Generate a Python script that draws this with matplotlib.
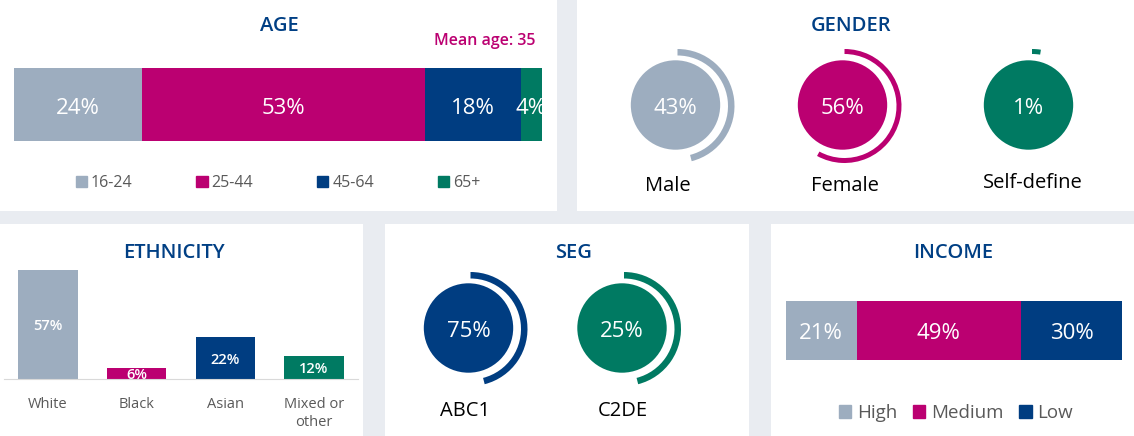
import matplotlib
matplotlib.use('Agg')
import matplotlib.pyplot as plt
from matplotlib.patches import Circle, Patch, Rectangle, Wedge

plt.rcParams['font.family'] = ['Open Sans', 'DejaVu Sans']

W, H = 1134, 436

GREY = "#9DADBF"
MAGENTA = "#BB0071"
NAVY = "#003D81"
GREEN = "#007A62"
TITLE = "#003F84"
PAGE = "#E9ECF1"
LABEL = "#595959"

age_labels = ["16-24", "25-44", "45-64", "65+"]
age_values = [24, 53, 18, 4]

gender_labels = ["Male", "Female", "Self-define"]
gender_values = [43, 56, 1]
# the rings in the original are not to scale, so sweep is read off separately
gender_ring_share = [46, 58, 2.5]

ethnicity_labels = ["White", "Black", "Asian", "Mixed or\nother"]
ethnicity_values = [57, 6, 22, 12]

seg_labels = ["ABC1", "C2DE"]
seg_values = [75, 25]
seg_ring_share = [46, 46]

income_labels = ["High", "Medium", "Low"]
income_values = [21, 49, 30]


def px_axes(x0, y0, x1, y1):
    """Axes placed by image pixels, y measured from the top."""
    ax = fig.add_axes([x0 / W, 1 - y1 / H, (x1 - x0) / W, (y1 - y0) / H])
    ax.patch.set_alpha(0)
    ax.axis("off")
    return ax


def panel(x0, y0, x1, y1):
    fig.add_artist(Rectangle((x0 / W, 1 - y1 / H), (x1 - x0) / W, (y1 - y0) / H,
                             transform=fig.transFigure, facecolor="white", edgecolor="none",
                             zorder=-1))


def fig_text(x, y, s, **kw):
    kw.setdefault("ha", "center")
    kw.setdefault("va", "center")
    fig.text(x / W, 1 - y / H, s, **kw)


def stacked_bar(box, values, labels, colours, fontsize=16):
    ax = px_axes(*box)
    left = 0
    for val, col in zip(values, colours):
        ax.barh(0, val, left=left, height=1, color=col)
        ax.text(left + val / 2, -0.05, f"{val}%", ha="center", va="center",
                color="white", fontsize=fontsize, clip_on=True)
        left += val
    ax.set_xlim(0, sum(values))
    ax.set_ylim(-0.5, 0.5)
    return ax


def ring(cx, cy, ring_dx, value, share, colour, thick=6):
    # one small axes per dial, data units are pixels from the circle centre
    s = 62
    ax = px_axes(cx - s, cy - s, cx + s + 6, cy + s)
    ax.set_xlim(-s, s + 6)
    ax.set_ylim(-s, s)
    ax.add_patch(Circle((0, 0), 44.7, color=colour, lw=0))
    ax.add_patch(Wedge((ring_dx, -1), 57, 90 - share * 3.6, 90, width=thick,
                       color=colour, lw=0))
    ax.text(0, -3.5, f"{value}%", ha="center", va="center", color="white", fontsize=16)


fig = plt.figure(figsize=(W / 100, H / 100), dpi=100, facecolor=PAGE)

panel(0, 0, 557, 211)
panel(577, 0, 1134, 211)
panel(0, 224, 363, 436)
panel(385, 224, 749, 436)
panel(771, 224, 1134, 436)

for x, y, s in [(279, 26, "AGE"), (851, 26, "GENDER"), (174, 253, "ETHNICITY"),
                (574, 253, "SEG"), (953, 253, "INCOME")]:
    fig_text(x, y, s, color=TITLE, fontsize=14.5, fontweight="semibold")

# AGE
age_cols = [GREY, MAGENTA, NAVY, GREEN]
ax = stacked_bar((14, 68, 542, 141), age_values, age_labels, age_cols)
fig_text(535, 41, "Mean age: 35", color=MAGENTA, fontsize=11.5, ha="right", fontweight="semibold")
fig.legend(handles=[Patch(color=c, label=l) for c, l in zip(age_cols, age_labels)],
           loc="center", bbox_to_anchor=(278 / W, 1 - 183 / H), ncol=4, frameon=False,
           fontsize=11.5, labelcolor=LABEL, handlelength=0.7, handleheight=0.7,
           handletextpad=0.25, columnspacing=4.0)

# GENDER
gender_pos = [(675.5, 105), (842.5, 105), (1028.5, 105)]
gender_cols = [GREY, MAGENTA, GREEN]
gender_label_xy = [(668, 186), (844.5, 186), (1033, 183)]
for i, (cx, cy) in enumerate(gender_pos):
    ring(cx, cy, [2, 2, 3.5][i], gender_values[i], gender_ring_share[i], gender_cols[i],
         thick=[6.5, 5, 5][i])
    fig_text(*gender_label_xy[i], gender_labels[i], color="black", fontsize=14.5)

# ETHNICITY
ax = px_axes(4, 270, 358, 379)
eth_cols = [GREY, MAGENTA, NAVY, GREEN]
xs = range(len(ethnicity_values))
ax.bar(xs, ethnicity_values, width=0.67, color=eth_cols)
for x, val in zip(xs, ethnicity_values):
    ax.text(x, val / 2 - 1, f"{val}%", ha="center", va="center", color="white",
            fontsize=10.5, fontweight="semibold", clip_on=True)
ax.set_xlim(-0.496, 3.495)
ax.set_ylim(0, 57)
ax.axis("on")
for side in ["top", "left", "right"]:
    ax.spines[side].set_visible(False)
ax.spines["bottom"].set_color("#D9D9D9")
ax.set_yticks([])
ax.set_xticks(list(xs))
ax.set_xticklabels(ethnicity_labels, fontsize=10.5, color=LABEL, linespacing=1.25, va="top")
ax.tick_params(axis="x", length=0, pad=13)

# SEG
seg_pos = [(468.5, 328), (622, 328)]
seg_cols = [NAVY, GREEN]
seg_label_xy = [(465, 411), (623, 411)]
for i, (cx, cy) in enumerate(seg_pos):
    ring(cx, cy, 2, seg_values[i], seg_ring_share[i], seg_cols[i], thick=6.5)
    fig_text(*seg_label_xy[i], seg_labels[i], color="black", fontsize=14.5)

# INCOME
inc_cols = [GREY, MAGENTA, NAVY]
stacked_bar((786, 301, 1122, 360), income_values, income_labels, inc_cols)
fig.legend(handles=[Patch(color=c, label=l) for c, l in zip(inc_cols, income_labels)],
           loc="center", bbox_to_anchor=(956 / W, 1 - 413 / H), ncol=3, frameon=False,
           fontsize=13.5, labelcolor=LABEL, handlelength=0.65, handleheight=0.65,
           handletextpad=0.3, columnspacing=0.85)

fig.savefig("out.png", dpi=100, facecolor=PAGE)
